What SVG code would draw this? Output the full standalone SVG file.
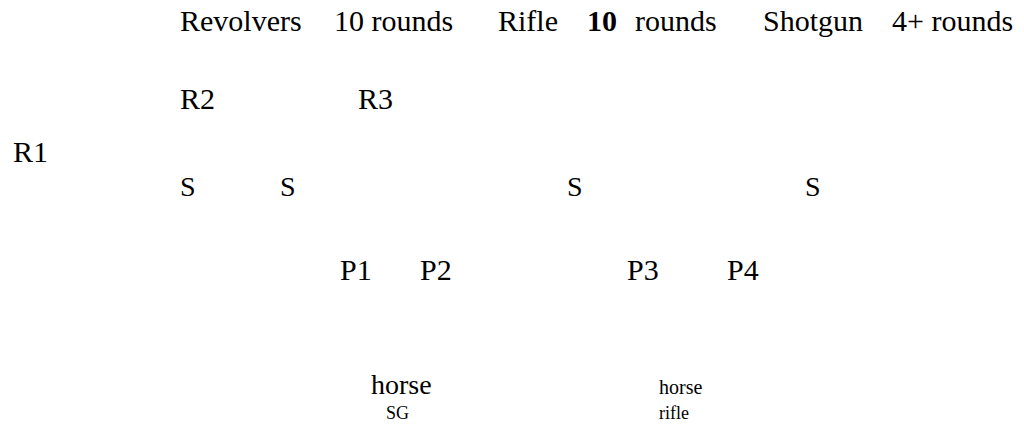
<svg xmlns="http://www.w3.org/2000/svg" width="1024" height="428" viewBox="0 0 1024 428">
<style>
text{font-family:'Liberation Serif','Times New Roman','DejaVu Serif',serif;fill:#000}
.m{font-size:30px}
.s{font-size:28px}
.b{font-weight:bold}
.sm{font-size:18px}
.h2{font-size:20px}
</style>
<rect width="1024" height="428" fill="#fff"/>
<g id="header" class="m" font-family="Liberation Serif, serif">
<text x="180" y="31">Revolvers</text>
<text x="334" y="31">10 rounds</text>
<text x="498" y="31">Rifle</text>
<text x="587" y="31" class="b">10</text>
<text x="635" y="31">rounds</text>
<text x="763" y="31">Shotgun</text>
<text x="892" y="31">4+ rounds</text>
</g>
<g id="R2"><text class="m" x="180" y="109">R2</text></g>
<g id="R3"><text class="m" x="358" y="109">R3</text></g>
<g id="R1"><text class="m" x="13" y="162">R1</text></g>
<g id="S1"><text class="s" x="180" y="196">S</text></g>
<g id="S2"><text class="s" x="280" y="196">S</text></g>
<g id="S3"><text class="s" x="567" y="196">S</text></g>
<g id="S4"><text class="s" x="805" y="196">S</text></g>
<g id="P1"><text class="m" x="340" y="280">P1</text></g>
<g id="P2"><text class="m" x="420" y="280">P2</text></g>
<g id="P3"><text class="m" x="627" y="280">P3</text></g>
<g id="P4"><text class="m" x="727" y="280">P4</text></g>
<g id="horse1"><text class="s" x="371" y="394">horse</text><text class="sm" x="386" y="419">SG</text></g>
<g id="horse2"><text class="h2" x="659" y="394">horse</text><text class="sm" x="659" y="419">rifle</text></g>
<g id="connectors"></g>
</svg>
